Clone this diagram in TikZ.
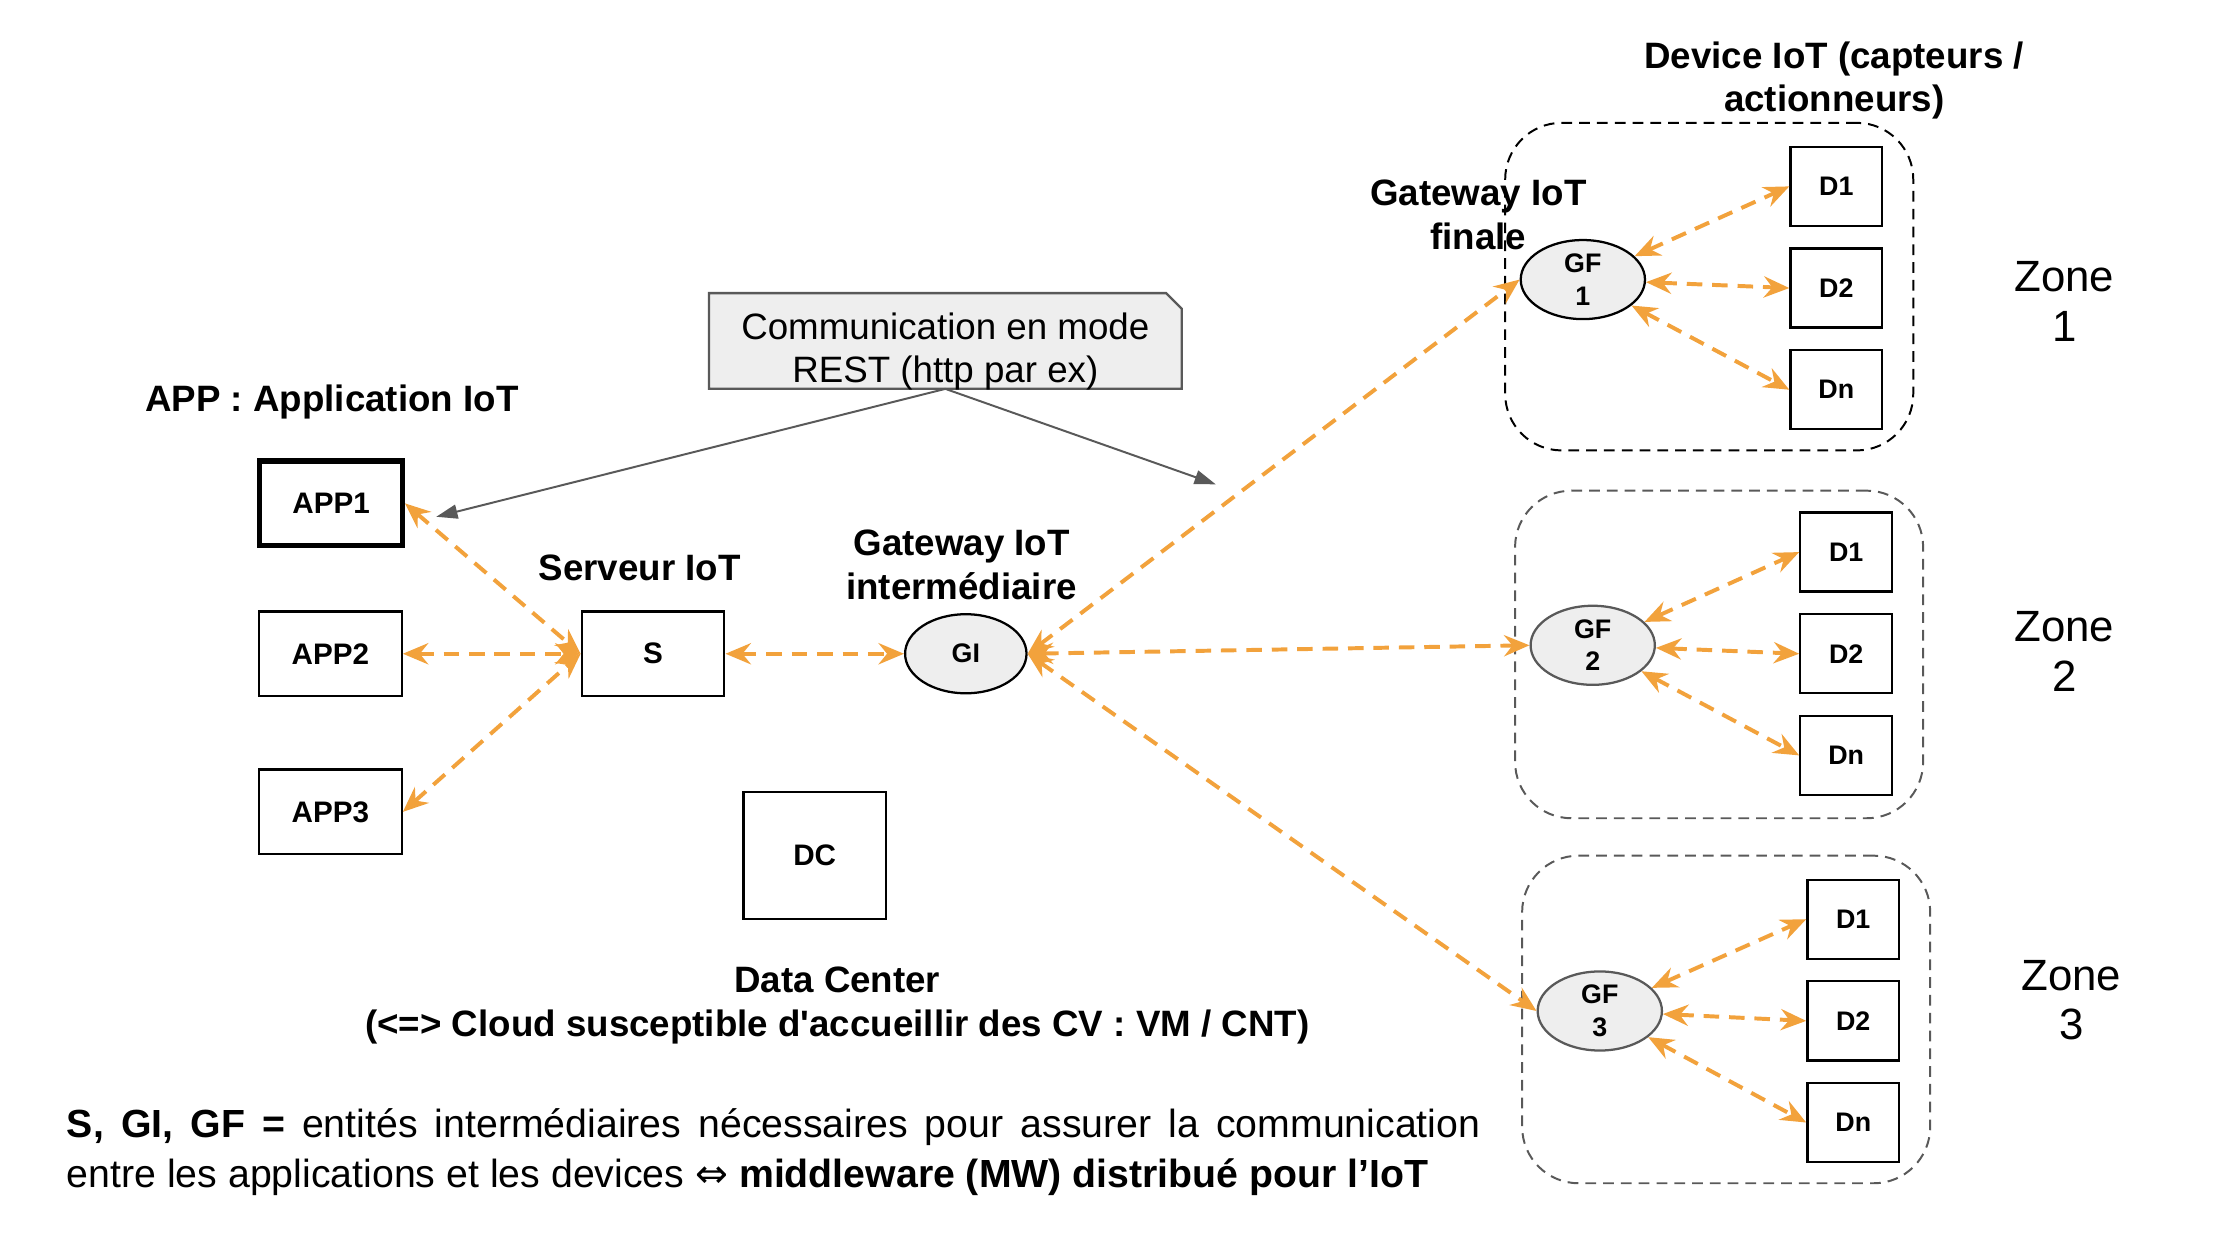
\documentclass[tikz,border=0pt]{standalone}
\usepackage{fontspec}
\newfontfamily\arial{Liberation Sans}
\newfontfamily\dejavu{DejaVu Sans}
\usetikzlibrary{arrows.meta,shapes.geometric,calc}
\definecolor{linkorange}{HTML}{F2A23C}
\definecolor{notegray}{HTML}{595959}
\definecolor{nodefill}{HTML}{EEEEEE}

\begin{document}
\begin{tikzpicture}[x=0.5pt,y=0.5pt,yscale=-1,
	box/.style={draw,line width=0.8pt,minimum width=50.5pt,minimum height=30pt,inner sep=0pt,font=\arial\bfseries\fontsize{10.5}{12.5}\selectfont},
	devbox/.style={box,minimum width=32.5pt,minimum height=28pt,font=\arial\bfseries\fontsize{9.5}{11.5}\selectfont},
	gwnode/.style={ellipse,draw,fill=nodefill,line width=0.8pt,minimum width=44pt,minimum height=28pt,inner sep=0pt,align=center,font=\arial\bfseries\fontsize{9.5}{11.5}\selectfont},
	zone/.style={draw,rounded corners=20pt,dash pattern=on 3.8pt off 2.5pt,line width=0.7pt,minimum width=144.5pt,minimum height=116pt},
	head/.style={align=center,inner sep=0pt,font=\arial\bfseries\fontsize{13}{15.5}\selectfont},
	zonelabel/.style={align=center,inner sep=0pt,font=\arial\fontsize{15.5}{17.5}\selectfont},
	calloutbox/.style={inner sep=0pt,minimum width=167pt,minimum height=33.5pt},
	callouttext/.style={align=center,inner sep=0pt,font=\arial\fontsize{13}{15.5}\selectfont},
	link/.style={draw=linkorange,line width=1.4pt,dash pattern=on 5.5pt off 3.5pt,{Stealth[length=9pt,width=7.5pt,inset=3pt]}-{Stealth[length=9pt,width=7.5pt,inset=3pt]}},
	note/.style={draw=notegray,line width=0.7pt,-{Triangle[length=7.5pt,width=5pt]}}]
	\useasboundingbox (0,0) rectangle (1568,877);

	\draw (1210.5,203) node [zone] (zone1) {};
	\draw (1217.5,463.5) node [zone,draw=notegray] (zone2) {};
	\draw (1222.5,722) node [zone,draw=notegray] (zone3) {};

	\draw (235,285) node [head] (apphead) {APP : Application IoT};
	\draw (453,402) node [head] (shead) {Serveur IoT};
	\draw (681,400) node [head] (gihead) {Gateway IoT\\intermédiaire};
	\draw (1047,152) node [head] (gfhead) {Gateway IoT\\finale};
	\draw (1299,57) node [head] (devhead) {Device IoT (capteurs /\\actionneurs)};
	\draw (593,712) node [head] (dchead) {Data Center\\(<=> Cloud susceptible d'accueillir des CV : VM / CNT)};

	\draw (1462,213.5) node [zonelabel] (zlabel1) {Zone\\1};
	\draw (1462,461.5) node [zonelabel] (zlabel2) {Zone\\2};
	\draw (1467,708.5) node [zonelabel] (zlabel3) {Zone\\3};

	\draw (234.5,356.5) node [box,line width=1.8pt] (app1) {APP1};
	\draw (234,463) node [box] (app2) {APP2};
	\draw (234,575) node [box] (app3) {APP3};
	\draw (462.5,463) node [box] (s) {S};
	\draw (577,606) node [box,minimum height=45pt] (dc) {DC};
	\draw (684,463) node [gwnode,minimum width=43pt] (gi) {GI};

	\draw (1121,198) node [gwnode] (gf1) {GF\\1};
	\draw (1128,457) node [gwnode,draw=notegray] (gf2) {GF\\2};
	\draw (1133,716) node [gwnode,draw=notegray] (gf3) {GF\\3};

	\draw (1300.5,132) node [devbox] (za1) {D1};
	\draw (1300.5,204) node [devbox] (za2) {D2};
	\draw (1300.5,276) node [devbox] (zan) {Dn};
	\draw (1307.5,391) node [devbox] (zb1) {D1};
	\draw (1307.5,463) node [devbox] (zb2) {D2};
	\draw (1307.5,535) node [devbox] (zbn) {Dn};
	\draw (1312.5,651) node [devbox] (zc1) {D1};
	\draw (1312.5,723) node [devbox] (zc2) {D2};
	\draw (1312.5,795) node [devbox] (zcn) {Dn};

	\path (669.5,241.5) node [calloutbox] (rest) {};
	\draw [draw=notegray,fill=nodefill,line width=0.8pt] (rest.south west) -- (rest.north west) -- ($(rest.north east)+(-11,0)$) -- ($(rest.north east)+(0,11)$) -- (rest.south east) -- cycle;
	\draw (669.5,249) node [callouttext] (resttext) {Communication en mode\\REST (http par ex)};
	\coordinate (restapp) at (309,366);
	\coordinate (restgw) at (861,343);
	\draw [note] (rest.south) -- (restapp);
	\draw [note] (rest.south) -- (restgw);

	\draw [link] (app1.east) -- (s.west);
	\draw [link] (app2.east) -- (s.west);
	\draw [link] (app3.east) -- (s.west);
	\draw [link] (s.east) -- (gi.west);
	\draw [link] (gi.east) -- (gf1.west);
	\draw [link] (gi.east) -- (gf2.west);
	\draw [link] (gi.east) -- (gf3.west);

	\draw [link] (gf1) -- (za1.west);
	\draw [link] (gf1) -- (za2.west);
	\draw [link] (gf1) -- (zan.west);
	\draw [link] (gf2) -- (zb1.west);
	\draw [link] (gf2) -- (zb2.west);
	\draw [link] (gf2) -- (zbn.west);
	\draw [link] (gf3) -- (zc1.west);
	\draw [link] (gf3) -- (zc2.west);
	\draw [link] (gf3) -- (zcn.west);

	\draw (47,785) node [anchor=north west,text width=500.5pt,align=justify,inner sep=0pt,font=\arial\fontsize{13.9}{17.5}\selectfont] (legend) {\textbf{S, GI, GF =} entités intermédiaires nécessaires pour assurer la communication\linebreak entre les applications et les devices {\dejavu ⇔} \textbf{middleware (MW) distribué pour l’IoT}};
\end{tikzpicture}
\end{document}
